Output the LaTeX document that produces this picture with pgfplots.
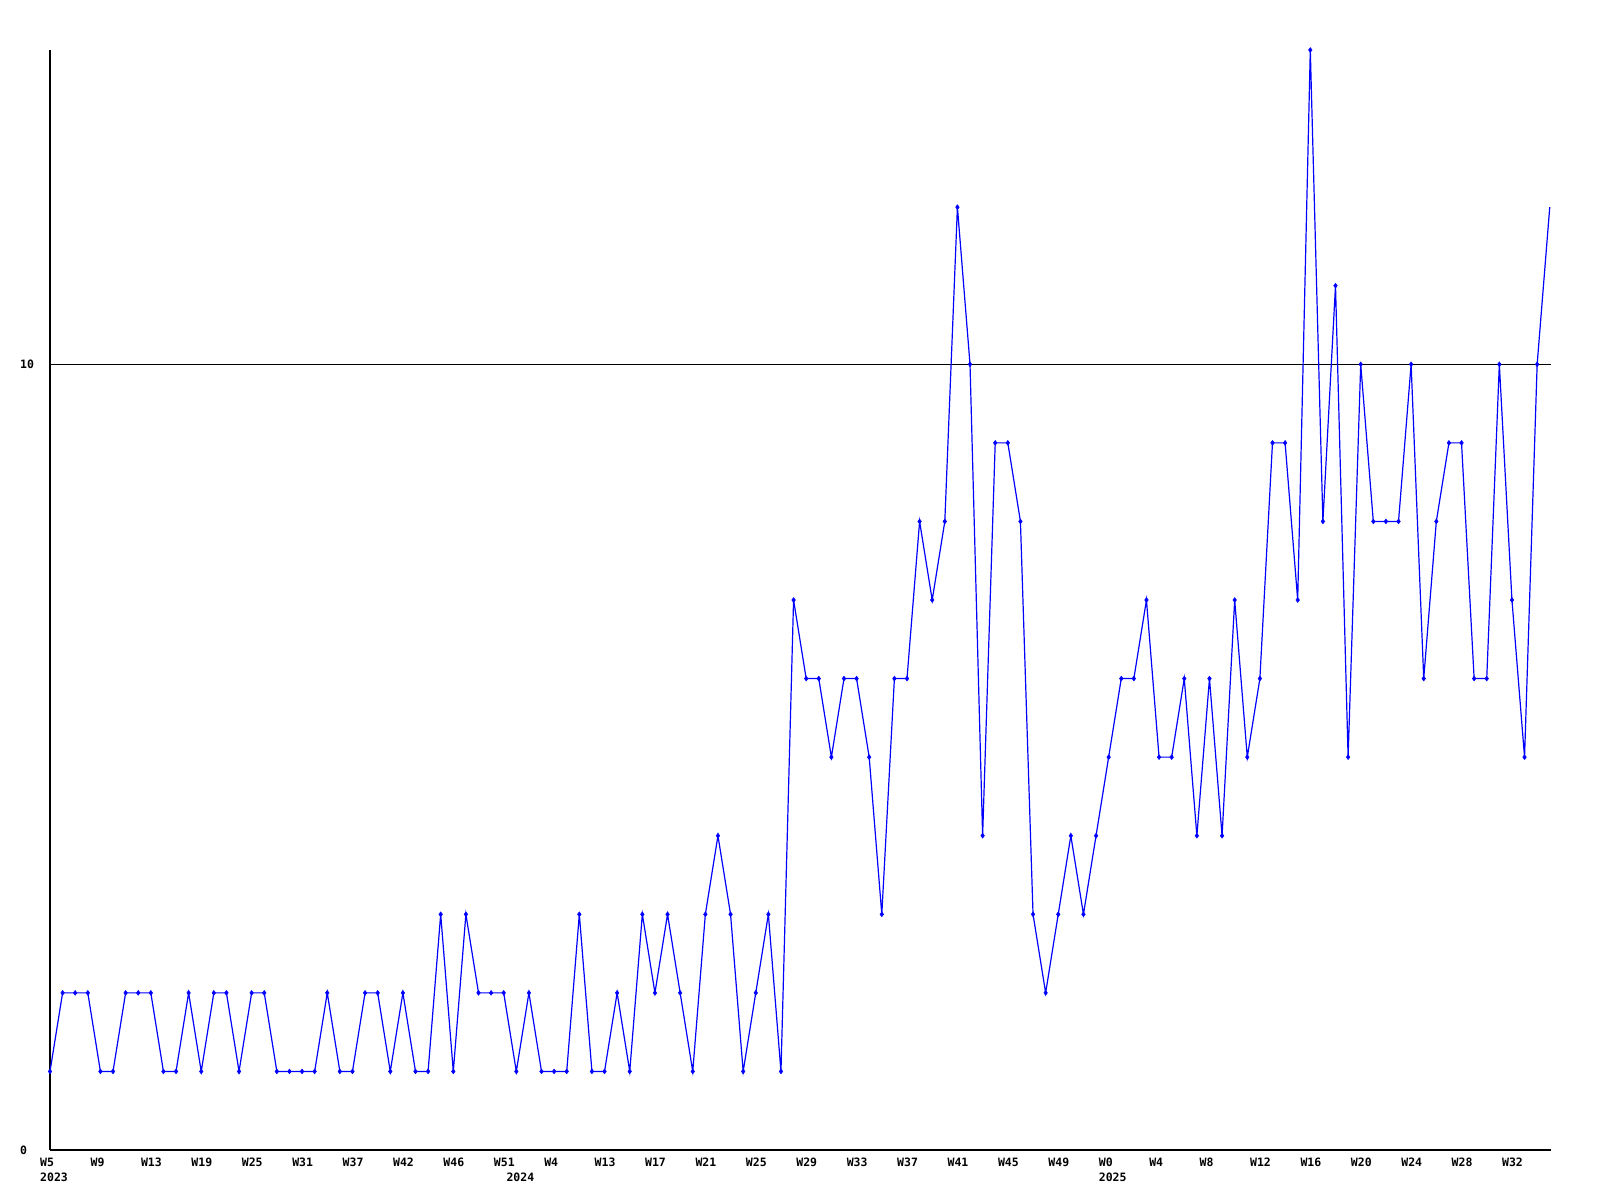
\documentclass[border=0pt]{standalone}
\usepackage{pgfplots}
\pgfplotsset{compat=1.18}
\usepackage{fontspec}
\setmainfont{DejaVu Sans Mono}
\begin{document}
\begin{tikzpicture}
\path[use as bounding box] (0,0) rectangle (1600pt,1200pt);
\begin{axis}[
  at={(50pt,50pt)}, anchor=south west,
  scale only axis, width=1501pt, height=1100pt,
  xmin=0, xmax=119.1, ymin=0, ymax=14,
  axis lines*=left,
  axis line style={line width=1.2pt, black, -},
  major tick length=0pt,
  ytick={0,10}, yticklabels={0,10},
  ymajorgrids=true,
  grid style={black, line width=1pt},
  xtick={0,4,...,116},
  xticklabels={W5,W9,W13,W19,W25,W31,W37,W42,W46,W51,W4,W13,W17,W21,W25,W29,W33,W37,W41,W45,W49,W0,W4,W8,W12,W16,W20,W24,W28,W32},
  extra x ticks={0,37,84},
  extra x tick labels={2023,2024,2025},
  extra x tick style={xmajorgrids=false, xticklabel style={yshift=-14.7pt}},
  every tick label/.append style={font=\fontsize{11.5pt}{13pt}\selectfont\bfseries, inner sep=0pt},
  xticklabel style={anchor=north west, xshift=-10pt, yshift=-8pt},
  yticklabel style={anchor=west, xshift=-30pt},
  /pgf/number format/assume math mode=true,
  clip=true,
]
\addplot[blue, line width=1.2pt, mark=diamond*, mark size=2.4pt,
  mark options={line width=0.5pt, fill=blue},
  mark indices={1,...,119}] table[x=i, y=v] {
i v
0 1
1 2
2 2
3 2
4 1
5 1
6 2
7 2
8 2
9 1
10 1
11 2
12 1
13 2
14 2
15 1
16 2
17 2
18 1
19 1
20 1
21 1
22 2
23 1
24 1
25 2
26 2
27 1
28 2
29 1
30 1
31 3
32 1
33 3
34 2
35 2
36 2
37 1
38 2
39 1
40 1
41 1
42 3
43 1
44 1
45 2
46 1
47 3
48 2
49 3
50 2
51 1
52 3
53 4
54 3
55 1
56 2
57 3
58 1
59 7
60 6
61 6
62 5
63 6
64 6
65 5
66 3
67 6
68 6
69 8
70 7
71 8
72 12
73 10
74 4
75 9
76 9
77 8
78 3
79 2
80 3
81 4
82 3
83 4
84 5
85 6
86 6
87 7
88 5
89 5
90 6
91 4
92 6
93 4
94 7
95 5
96 6
97 9
98 9
99 7
100 14
101 8
102 11
103 5
104 10
105 8
106 8
107 8
108 10
109 6
110 8
111 9
112 9
113 6
114 6
115 10
116 7
117 5
118 10
119 12
};
\end{axis}
\end{tikzpicture}
\end{document}
